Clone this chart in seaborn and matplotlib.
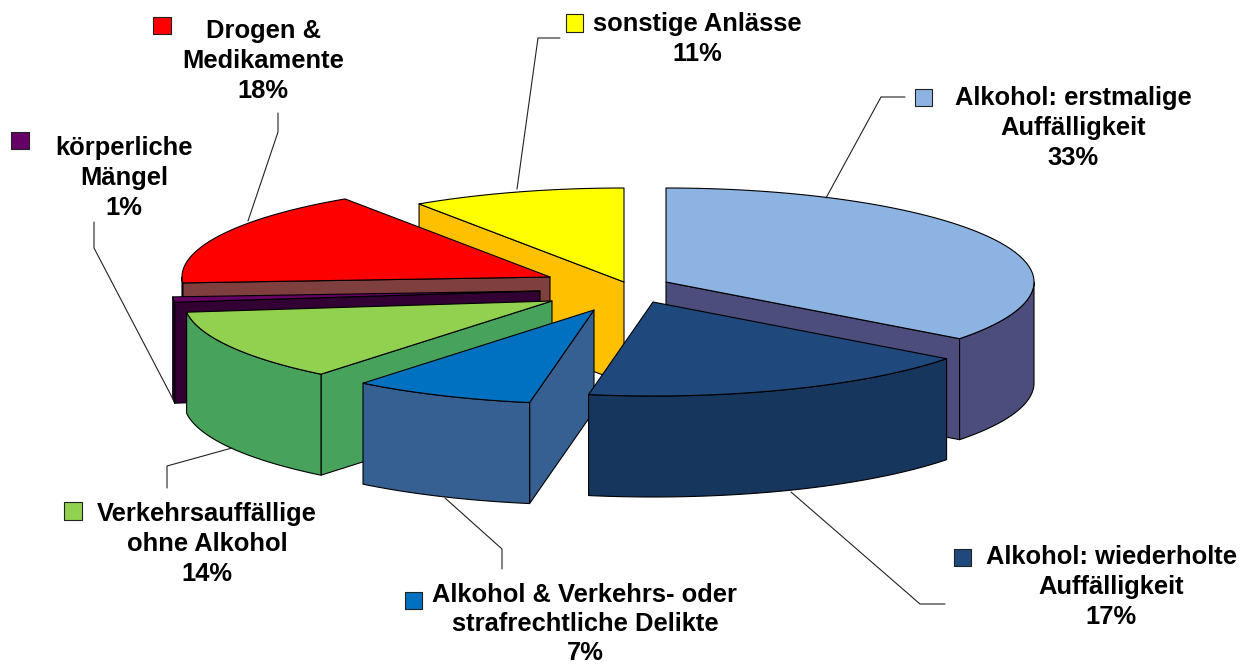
#!/usr/bin/env python

import numpy as np
import seaborn as sns
import matplotlib.pyplot as plt

categories = ["Alkohol: erstmalige\nAuffälligkeit", "Alkohol: wiederholte\nAuffälligkeit",
              "Alkohol & Verkehrs- oder\nstrafrechtliche Delikte", "Verkehrsauffällige\nohne Alkohol",
              "körperliche\nMängel", "Drogen &\nMedikamente", "sonstige Anlässe"]
percent = [33, 17, 7, 14, 1, 18, 11]
# share of the circle each slice really covers in the picture (3D view distorts them)
drawn_share = [35.3, 17.5, 8.0, 12.3, 0.9, 16.6, 9.4]

top_colors = ["#8DB3E2", "#1F497D", "#0070C0", "#92D050", "#660066", "#FF0000", "#FFFF00"]
side_colors = ["#4D4D7D", "#17365D", "#366092", "#47A25B", "#330033", "#7F3F3F", "#FFC000"]

# layout, in pixels of the 1244x667 picture
apex_x = [666, 653, 594, 552, 540, 550, 624]
apex_y = [282, 302, 310, 301, 291, 277, 282]
rx, ry, depth = 368, 94, 101
draw_order = [6, 0, 5, 4, 3, 2, 1]

label_x = [1073, 1111, 585, 207, 124, 263, 697]
label_y = [128, 587, 624, 544, 178, 61, 39]
label_spacing = [1.34, 1.34, 1.24, 1.34, 1.34, 1.34, 1.34]
key_x = [923.5, 962.5, 413.5, 73, 20, 162, 574.5]
key_y = [97.5, 557.5, 600.5, 511, 140.5, 25.5, 23]
leaders = [[(826, 198), (881, 97), (905, 97)],
           [(791, 492), (920, 604), (945, 604)],
           [(445, 498), (502, 549), (502, 569)],
           [(232, 448), (167, 466), (167, 488)],
           [(174, 401), (94, 248), (94, 222)],
           [(248, 221), (278, 132), (278, 113)],
           [(517, 189), (538, 38), (560, 38)]]

sns.set_theme(style="white")
plt.rcParams['font.family'] = ['Liberation Sans', 'DejaVu Sans']

fig, ax = plt.subplots(figsize=(12.44, 6.67), dpi=100)
ax.set_position([0, 0, 1, 1])
ax.set_xlim(0, 1244)
ax.set_ylim(667, 0)
ax.axis('off')

edges = np.concatenate([[0], np.cumsum(drawn_share)]) / np.sum(drawn_share) * 2 * np.pi
line_kw = dict(edgecolor='black', linewidth=0.8, joinstyle='round')


def rim(cx, cy, angles):
    return cx + rx * np.sin(angles), cy - ry * np.cos(angles)


for i in draw_order:
    cx, cy = apex_x[i], apex_y[i]
    a0, a1 = edges[i], edges[i + 1]

    # cut faces that turn towards the viewer
    for a, visible in ((a0, np.sin(a0) < -1e-6), (a1, np.sin(a1) > 1e-6)):
        if visible:
            x, y = rim(cx, cy, np.array([a]))
            ax.fill([cx, x[0], x[0], cx], [cy, y[0], y[0] + depth, cy + depth],
                    facecolor=side_colors[i], **line_kw)

    # outer wall, only the front half of the ellipse
    lo, hi = max(a0, np.pi / 2), min(a1, 3 * np.pi / 2)
    if hi > lo:
        t = np.linspace(lo, hi, 120)
        x, y = rim(cx, cy, t)
        ax.fill(np.r_[x, x[::-1]], np.r_[y, y[::-1] + depth],
                facecolor=side_colors[i], **line_kw)

    # top
    t = np.linspace(a0, a1, 200)
    x, y = rim(cx, cy, t)
    ax.fill(np.r_[cx, x], np.r_[cy, y], facecolor=top_colors[i], **line_kw)

for pts in leaders:
    xs, ys = zip(*pts)
    ax.plot(xs, ys, color='#222222', linewidth=0.8, zorder=5)

sns.scatterplot(x=key_x, y=key_y, hue=categories, palette=top_colors, marker='s', s=150,
                edgecolor='#222222', linewidth=0.8, legend=False, ax=ax, zorder=6, clip_on=False)

for name, pct, x, y, sp in zip(categories, percent, label_x, label_y, label_spacing):
    ax.text(x, y, f"{name}\n{pct}%", ha='center', va='center', fontsize=18.4,
            fontweight='bold', color='black', linespacing=sp, zorder=7)

plt.savefig('out.png', dpi=100, facecolor='white')
